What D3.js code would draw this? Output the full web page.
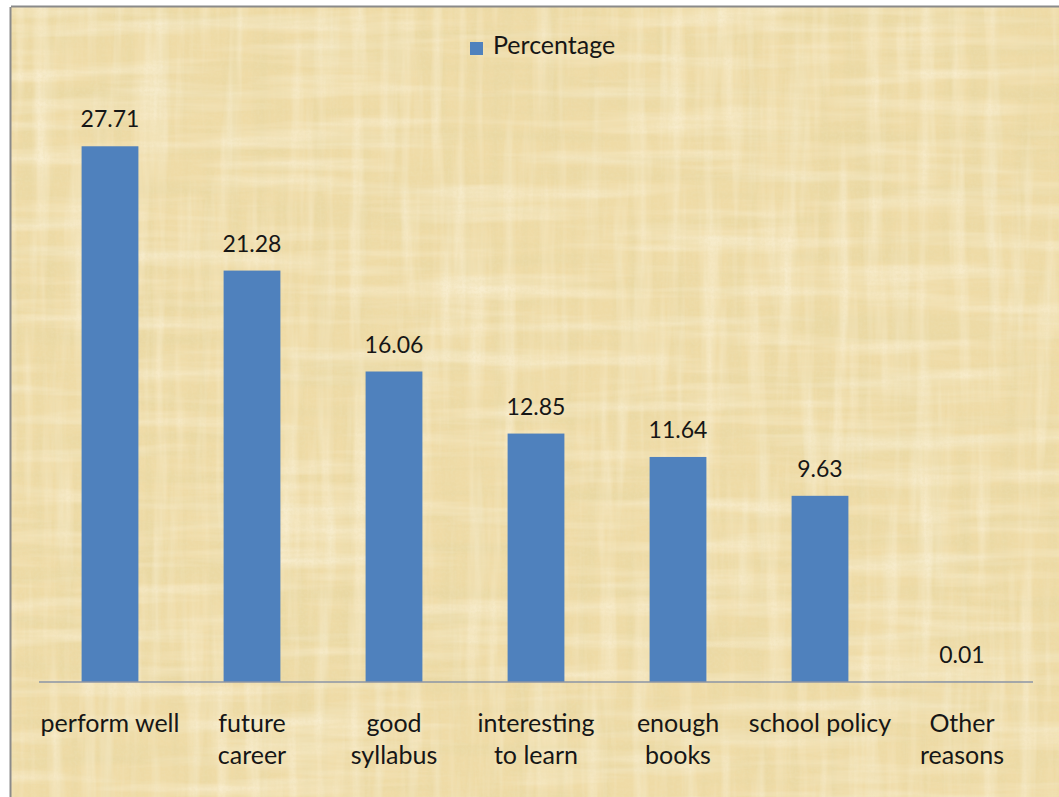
<!DOCTYPE html>
<html>
<head>
<meta charset="utf-8">
<script src="https://cdn.jsdelivr.net/npm/d3@7"></script>
<style>
  html, body { margin: 0; padding: 0; background: #ffffff; }
  svg { display: block; }
</style>
</head>
<body>
<svg id="chart" width="1059" height="797"></svg>
<script>
// Reasons for choosing the subject, share of respondents (%)
const categories = [
  ["perform well"],
  ["future", "career"],
  ["good", "syllabus"],
  ["interesting", "to learn"],
  ["enough", "books"],
  ["school policy"],
  ["Other", "reasons"]
];
const percentages = [27.71, 21.28, 16.06, 12.85, 11.64, 9.63, 0.01];
const seriesName = "Percentage";

const W = 1059, H = 797;
const svg = d3.select("#chart");
const font = "Lato, 'Open Sans', sans-serif";
const ink = "#161616";

// Papyrus-like fibrous paper: streaky noise tinted darker and lighter
const defs = svg.append("defs");
function fibreFilter(id, freq, seed, rgb, gain, offset) {
  const f = defs.append("filter").attr("id", id)
    .attr("x", 0).attr("y", 0).attr("width", "100%").attr("height", "100%")
    .attr("filterUnits", "objectBoundingBox");
  f.append("feTurbulence").attr("type", "fractalNoise")
    .attr("baseFrequency", freq).attr("numOctaves", 4).attr("seed", seed);
  f.append("feColorMatrix").attr("type", "matrix")
    .attr("values", [
      0, 0, 0, 0, rgb[0],
      0, 0, 0, 0, rgb[1],
      0, 0, 0, 0, rgb[2],
      gain, 0, 0, 0, offset
    ].join(" "));
}
fibreFilter("fibH", "0.004 0.07", 3, [0.80, 0.68, 0.36], 1.5, -0.66);
fibreFilter("fibV", "0.07 0.004", 7, [0.80, 0.68, 0.36], 1.5, -0.66);
fibreFilter("litH", "0.005 0.06", 11, [0.99, 0.94, 0.80], 1.1, -0.5);
fibreFilter("litV", "0.06 0.005", 17, [0.99, 0.94, 0.80], 1.1, -0.5);
fibreFilter("grain", "0.35 0.35", 23, [0.85, 0.74, 0.45], 0.8, -0.3);

const frameX = 11, frameY = 7;
const paper = svg.append("g");
paper.append("rect").attr("x", frameX).attr("y", frameY)
  .attr("width", W - frameX).attr("height", H - frameY)
  .attr("fill", "#efdba6");
["fibH", "fibV", "litH", "litV", "grain"].forEach(id => {
  paper.append("rect").attr("x", frameX).attr("y", frameY)
    .attr("width", W - frameX).attr("height", H - frameY)
    .attr("filter", `url(#${id})`);
});

// frame edges (top and left)
svg.append("line").attr("x1", frameX).attr("x2", W).attr("y1", frameY - 0.5).attr("y2", frameY - 0.5)
  .attr("stroke", "#8a8a8a").attr("stroke-width", 2);
svg.append("line").attr("x1", frameX - 0.5).attr("x2", frameX - 0.5).attr("y1", frameY).attr("y2", H)
  .attr("stroke", "#8a8a8a").attr("stroke-width", 2);

// Scales
const plotLeft = 39, plotRight = 1033, baseY = 682;
const x = d3.scaleBand()
  .domain(d3.range(categories.length))
  .range([plotLeft, plotRight])
  .paddingInner(0.6).paddingOuter(0.3);
const y = d3.scaleLinear().domain([0, 30]).range([baseY, baseY - 580]);

// Bars
svg.append("g").selectAll("rect")
  .data(percentages)
  .join("rect")
  .attr("x", (d, i) => x(i))
  .attr("width", x.bandwidth())
  .attr("y", d => y(d))
  .attr("height", d => baseY - y(d))
  .attr("fill", "#4f81bd");

// Value labels
svg.append("g").selectAll("text")
  .data(percentages)
  .join("text")
  .attr("x", (d, i) => x(i) + x.bandwidth() / 2)
  .attr("y", d => y(d) - 19)
  .attr("text-anchor", "middle")
  .attr("font-family", font)
  .attr("font-size", 23)
  .attr("fill", ink)
  .text(d => d.toFixed(2));

// Category axis
const axis = d3.axisBottom(x).tickSize(0).tickFormat("");
const axisG = svg.append("g").attr("transform", `translate(0,${baseY})`).call(axis);
axisG.select(".domain").attr("stroke", "#8b95a6").attr("stroke-width", 1.5)
  .attr("d", `M${plotLeft},0H${plotRight}`);

const catG = svg.append("g");
categories.forEach((lines, i) => {
  const cx = x(i) + x.bandwidth() / 2;
  const t = catG.append("text")
    .attr("x", cx)
    .attr("y", 732)
    .attr("text-anchor", "middle")
    .attr("font-family", font)
    .attr("font-size", 25)
    .attr("fill", ink);
  lines.forEach((ln, k) => {
    t.append("tspan")
      .attr("x", cx)
      .attr("dy", k === 0 ? 0 : 32)
      .text(ln);
  });
});

// Legend
const lg = svg.append("g").attr("transform", "translate(470,42)");
lg.append("rect").attr("width", 13).attr("height", 13).attr("fill", "#4f81bd");
lg.append("text").attr("x", 23).attr("y", 12)
  .attr("font-family", font).attr("font-size", 25).attr("fill", ink)
  .text(seriesName);
</script>
</body>
</html>
